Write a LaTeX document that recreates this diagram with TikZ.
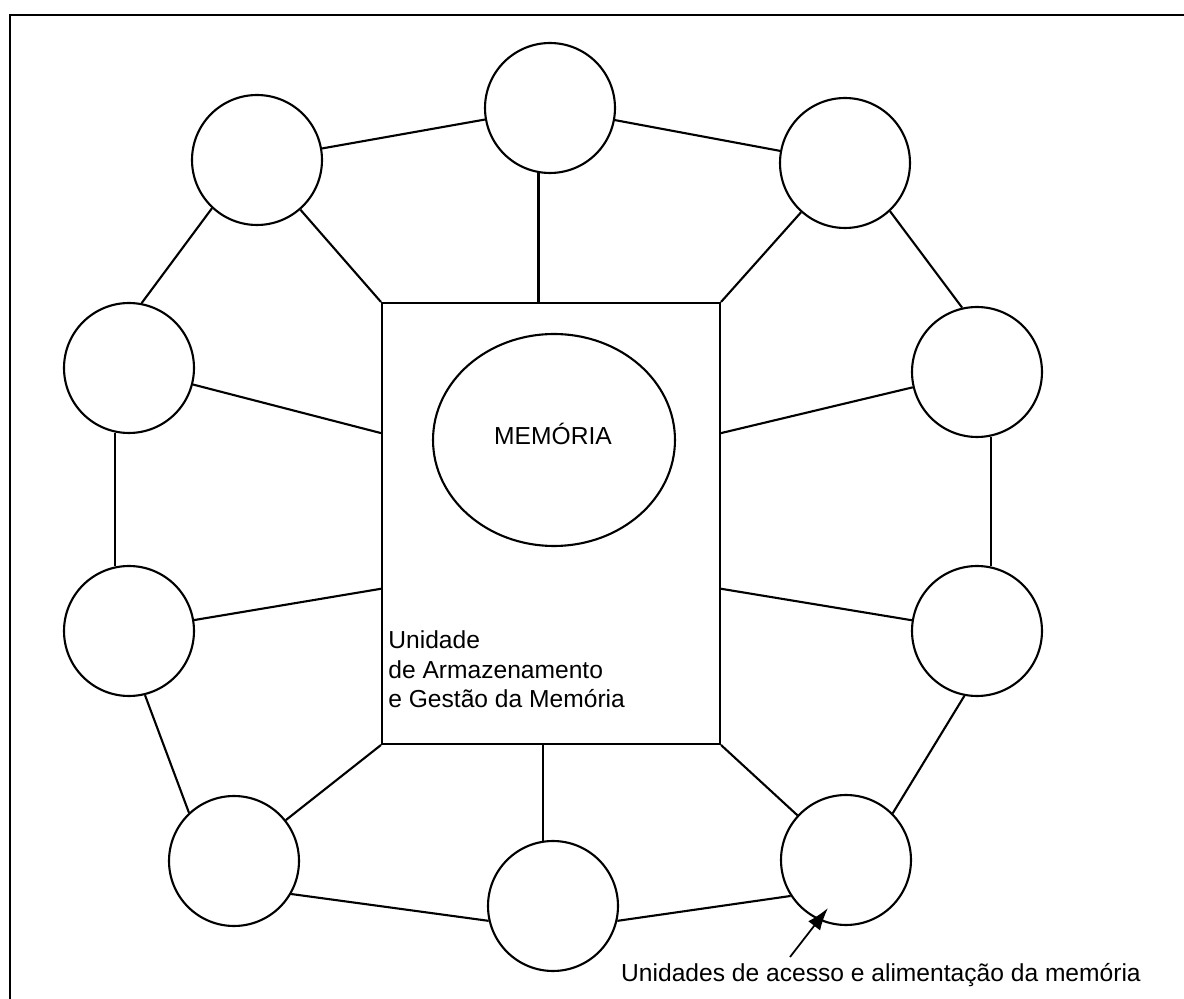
\documentclass[tikz,border=0pt]{standalone}
\usepackage{fontspec}
\setmainfont{Liberation Sans}
\usetikzlibrary{arrows.meta,shapes.geometric}

\tikzset{
  unit/.style={draw, circle, minimum size=2.6cm, inner sep=0pt, line width=1.2pt},
  link/.style={line width=1.2pt},
}

\begin{document}
\begin{tikzpicture}[x=0.02cm, y=-0.02cm, font=\fontsize{14}{17}\selectfont]
\useasboundingbox (0,0) rectangle (1184,999);
\draw[link] (10,999) -- (10,15) -- (1184,15);

\node[draw, rectangle, line width=1.2pt, minimum width=6.76cm, minimum height=8.82cm] (box) at (551,523.5) {};
\node[draw, ellipse, line width=1.2pt, minimum width=4.84cm, minimum height=4.24cm, inner sep=0pt] (mem) at (554,440) {};
\node (memtxt) at (553,434) {MEMÓRIA};
\node[anchor=north west, inner sep=0pt, align=left] (uagm) at (388,630)
{Unidade\\de Armazenamento\\e Gestão da Memória};

\node[unit] (t) at (550,108) {};
\node[unit] (tl) at (257,160) {};
\node[unit] (tr) at (845,163) {};
\node[unit] (lu) at (129,368) {};
\node[unit] (ru) at (977,372) {};
\node[unit] (ll) at (129,631) {};
\node[unit] (rl) at (977,631) {};
\node[unit] (bl) at (234,861) {};
\node[unit] (br) at (846,860) {};
\node[unit] (b) at (553,906) {};

\draw[link] (tl) -- (t) -- (tr);
\draw[link] (tr.-47) -- (ru.103);
\draw[link] (ru.282) -- (rl.78);
\draw[link] (rl.-101) -- (br.45);
\draw[link] (br.213) -- (b.-13);
\draw[link] (b.193) -- (bl.-30);
\draw[link] (bl.133) -- (ll.-76);
\draw[link] (ll.102) -- (lu.258);
\draw[link] (lu.79) -- (tl.-133);

\draw[link] (t.260) -- (t.260 |- box.north);
\draw[link] (tl) -- (box.north west);
\draw[link] (tr) -- (box.north east);
\draw[link] (lu) -- (box.152);
\draw[link] (ru) -- (box.28);
\draw[link] (ll) -- (box.201);
\draw[link] (rl) -- (box.-21);
\draw[link] (bl) -- (box.south west);
\draw[link] (br) -- (box.south east);
\draw[link] (b.99) -- (b.99 |- box.south);

\node (lbl) at (881,975) {Unidades de acesso e alimentação da memória};
\coordinate (tail) at (790,957);
\coordinate (tip) at (828,908);
\draw[line width=1pt, -{Latex[length=0.45cm, width=0.3cm]}] (tail) -- (tip);
\end{tikzpicture}
\end{document}
